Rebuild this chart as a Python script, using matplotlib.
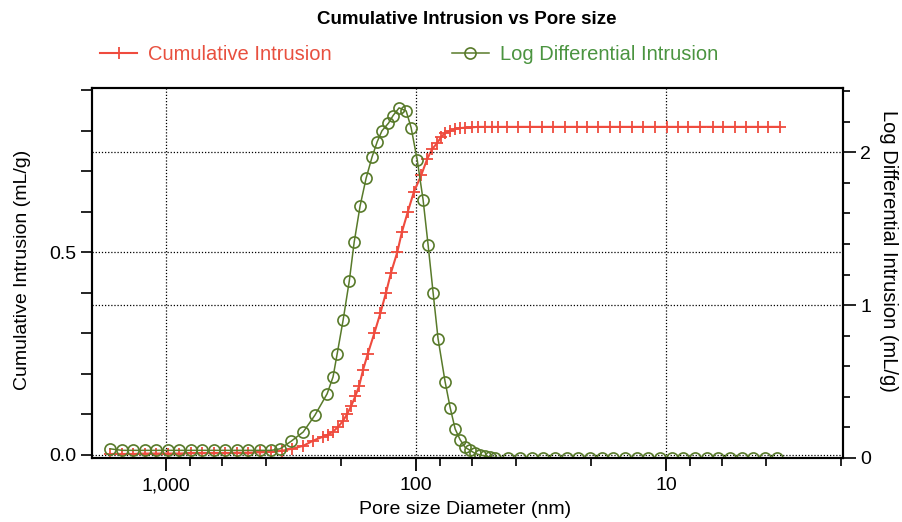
## Cumulative intrusion vs pore size (MIP curve)

import matplotlib.pyplot as plt
from matplotlib.ticker import FixedLocator, LogLocator, NullFormatter, FuncFormatter, MultipleLocator

plt.rcParams['font.family'] = ['Liberation Sans', 'DejaVu Sans']

# Cumulative intrusion (left axis)
cum_diam = [1675, 1500, 1355, 1213, 1096, 982, 887, 794, 718, 643, 581, 520, 470, 421, 380, 343,
            313, 283, 258, 235, 225, 215, 205, 196, 189, 182, 175, 169, 163, 156, 147, 139, 132,
            126, 119, 114, 108, 102, 95.5, 90.4, 86.3, 82.4, 79.4, 76.6, 73.1, 69.8, 66.7, 63.7,
            59.7, 56.5, 53.0, 49.7, 47.0,
            43.3, 39.1, 35.0, 31.3, 28.3, 25.4, 22.7, 20.7, 18.7, 16.7, 15.3, 13.7, 12.4, 11.1,
            9.9, 9.0, 8.2, 7.3, 6.5, 5.9, 5.3, 4.8, 4.3, 3.9, 3.5]
cum_intrusion = [0.002, 0.002, 0.002, 0.003, 0.003, 0.003, 0.003, 0.004, 0.004, 0.004, 0.004,
                 0.005, 0.005, 0.006, 0.007, 0.010,
                 0.015, 0.022, 0.035, 0.045, 0.050, 0.057, 0.069, 0.084, 0.100, 0.120, 0.145,
                 0.170, 0.210, 0.250, 0.300, 0.350, 0.400, 0.450, 0.500, 0.550, 0.600, 0.650,
                 0.690, 0.730, 0.755, 0.770, 0.785, 0.795, 0.800, 0.805, 0.807, 0.808, 0.809,
                 0.810, 0.810, 0.810, 0.810,
                 0.810, 0.810, 0.810, 0.810, 0.810, 0.810, 0.810, 0.810, 0.810, 0.810, 0.810,
                 0.810, 0.810, 0.810, 0.810, 0.810, 0.810, 0.810, 0.810, 0.810, 0.810, 0.810,
                 0.810, 0.810, 0.810]

# Log differential intrusion (right axis)
logdiff_diam = [1675, 1500, 1355, 1213, 1096, 982, 887, 794, 718, 643, 581, 520, 470, 421, 380,
                350, 316, 283, 254, 227, 215, 207, 196, 185, 177, 167.5, 158.5, 150, 143, 137,
                129, 123.6, 117, 109.6, 104.7, 99, 93.8, 89.5, 85.5, 81.7, 76.6, 73.1, 69.8,
                66.7, 63.7, 60.8, 58.1, 55.5, 53.0, 50.6, 48.3,
                42.9, 38.4, 34.4, 31.0, 27.8, 24.9, 22.5, 20.1, 18.0, 16.3, 14.6, 13.1, 11.8,
                10.6, 9.5, 8.55, 7.66, 6.85, 6.19, 5.55, 4.97, 4.49, 4.02, 3.60]
log_diff_intrusion = [0.06, 0.05, 0.05, 0.05, 0.05, 0.05, 0.05, 0.05, 0.05, 0.05, 0.05, 0.05,
                      0.05, 0.05, 0.05,
                      0.06, 0.11, 0.17, 0.28, 0.42, 0.53, 0.68, 0.90, 1.16, 1.41, 1.65, 1.83,
                      1.97, 2.07, 2.14, 2.19, 2.24, 2.29, 2.27, 2.16, 1.95, 1.69, 1.39, 1.08,
                      0.78, 0.50, 0.33, 0.19, 0.12, 0.07, 0.05, 0.03, 0.02, 0.013, 0.007, 0.003,
                      0.0, 0.0, 0.0, 0.0, 0.0, 0.0, 0.0, 0.0, 0.0, 0.0, 0.0, 0.0, 0.0,
                      0.0, 0.0, 0.0, 0.0, 0.0, 0.0, 0.0, 0.0, 0.0, 0.0, 0.0]

x_ticks = [1000, 100, 10]
left_ticks = [0.0, 0.5]
right_ticks = [0, 1, 2]

red = '#ef4b3e'
green = '#587a2a'
red_text = '#e8503f'
green_text = '#4b9440'

fig = plt.figure(figsize=(9.03, 5.22), dpi=100)
ax = fig.add_axes([92/903, 1 - 458/522, 751/903, 370/522])
ax.set_xscale('log')
ax2 = ax.twinx()

l1, = ax.plot(cum_diam, cum_intrusion, color=red, lw=1.5, marker='+', ms=9, mew=1.3,
              label='Cumulative Intrusion')
l2, = ax2.plot(logdiff_diam, log_diff_intrusion, color=green, lw=1.1, marker='o', ms=8,
               mfc='none', mew=1.2, label='Log Differential Intrusion')

ax.set_xlim(1980, 1.96)
ax.set_ylim(-0.008, 0.906)
ax2.set_ylim(0, 2.42)

# ticks
ax.xaxis.set_major_locator(FixedLocator(x_ticks))
ax.xaxis.set_major_formatter(FuncFormatter(lambda v, p: f'{v:,.0f}'))
ax.xaxis.set_minor_locator(LogLocator(base=10, subs=(2, 4, 6, 8)))
ax.xaxis.set_minor_formatter(NullFormatter())
ax.yaxis.set_major_locator(FixedLocator(left_ticks))
ax.yaxis.set_major_formatter(FuncFormatter(lambda v, p: f'{v:.1f}'))
ax.yaxis.set_minor_locator(MultipleLocator(0.1))
ax2.yaxis.set_major_locator(FixedLocator(right_ticks))
ax2.yaxis.set_major_formatter(FuncFormatter(lambda v, p: f'{v:.0f}'))
ax2.yaxis.set_minor_locator(MultipleLocator(0.2))

ax.tick_params(axis='x', which='major', direction='out', length=9, width=1.3, labelsize=14, pad=5)
ax.tick_params(axis='x', which='minor', direction='out', length=5.5, width=1.2)
ax.tick_params(axis='y', which='both', direction='out', length=8, width=1.2, labelsize=14)
ax2.tick_params(axis='y', which='major', direction='out', length=9, width=1.2, labelsize=14)
ax2.tick_params(axis='y', which='minor', direction='out', length=5, width=1.2)

# dotted grid
grid_style = dict(color='black', linestyle=(0, (1, 1.5)), linewidth=0.9)
ax.grid(True, which='major', axis='both', **grid_style)
ax2.grid(True, which='major', axis='y', **grid_style)
ax.set_axisbelow(True)

for a in (ax, ax2):
    for s in a.spines.values():
        s.set_linewidth(1.5)

# labels, title
ax.set_xlabel('Pore size Diameter (nm)', fontsize=14, va='center')
ax.xaxis.set_label_coords(0.497, -0.14)
ax.set_ylabel('Cumulative Intrusion (mL/g)', fontsize=14, va='center')
ax.yaxis.set_label_coords(-0.093, 0.508)
ax2.set_ylabel('Log Differential Intrusion (mL/g)', fontsize=14.5, rotation=270, va='center')
ax2.yaxis.set_label_coords(1.06, 0.56)

fig.text(0.517, 0.962, 'Cumulative Intrusion vs Pore size', ha='center', va='center',
         fontsize=13.5, fontweight='bold')

leg = fig.legend(handles=[l1, l2], loc='center left', bbox_to_anchor=(90/903, 1 - 55/522),
                 ncol=2, frameon=False, fontsize=14.5, borderpad=0, handlelength=1.85,
                 handletextpad=0.55, columnspacing=5.95)
for t, c in zip(leg.get_texts(), [red_text, green_text]):
    t.set_color(c)

fig.savefig('out.png', dpi=100)
